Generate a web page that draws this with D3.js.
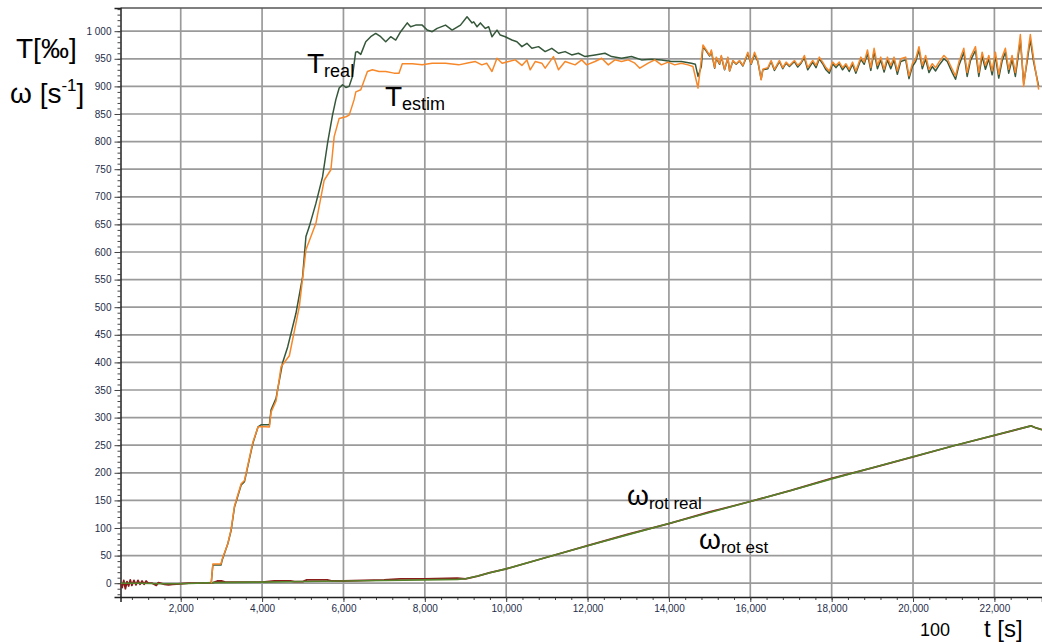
<!DOCTYPE html>
<html>
<head>
<meta charset="utf-8">
<script src="https://cdn.jsdelivr.net/npm/d3@7"></script>
<style>
  body { margin: 0; background: #fff; }
  text { font-family: "Liberation Sans", Arial, sans-serif; }
</style>
</head>
<body>
<svg id="chart" width="1042" height="642"></svg>
<script>
// ---- torque, run-up phase (time in s, torque in ‰) ----
const realRiseTime = [2750, 2790, 2990, 3020, 3160, 3240, 3322, 3486, 3567, 3772, 3900, 3976, 4180, 4221, 4343, 4506, 4629, 4833, 4996, 5078,
  5160, 5323, 5486, 5609, 5731, 5813, 5895, 5976, 6060, 6140, 6221, 6300, 6344, 6426, 6548, 6670, 6793, 6916, 7039, 7161,
  7284, 7406, 7569, 7651, 7774, 7936, 8058, 8181, 8303, 8509, 8671, 8876, 9038, 9161, 9202, 9283, 9366, 9488, 9570, 9651,
  9774, 9855, 9978, 10141, 10264, 10386, 10509, 10631, 10795, 10958, 11121, 11285, 11448, 11611, 11775, 11938, 12183, 12428, 12591, 12836,
  13081, 13326, 13571, 13816, 14061, 14306, 14551, 14650, 14715, 14796];
const realRiseValue = [0, 33, 33, 42, 72, 96, 138, 178, 184, 253, 283, 287, 287, 314, 335, 400, 428, 489, 555, 628,
  646, 688, 736, 797, 848, 876, 897, 903, 898, 900, 918, 962, 963, 958, 981, 990, 996, 990, 981, 990,
  984, 999, 1015, 1008, 1011, 1011, 1002, 999, 1005, 1011, 1002, 1011, 1026, 1015, 1017, 1008, 1015, 1005, 1008, 990,
  1002, 993, 990, 984, 981, 972, 978, 969, 972, 963, 969, 960, 963, 957, 960, 954, 957, 960, 954, 951,
  954, 948, 949, 948, 945, 945, 942, 940, 918, 936];

const estRiseTime = [2750, 2790, 2990, 3020, 3160, 3240, 3322, 3486, 3567, 3772, 3900, 3976, 4180, 4221, 4343, 4466, 4670, 4915, 5078, 5323,
  5527, 5691, 5772, 5895, 6059, 6140, 6181, 6262, 6304, 6426, 6589, 6711, 6875, 7039, 7242, 7365, 7446, 7691, 7936, 8181,
  8509, 8835, 9080, 9243, 9400, 9520, 9651, 9774, 9900, 10060, 10223, 10386, 10509, 10590, 10713, 10876, 10958, 11162, 11285, 11448,
  11693, 11856, 11979, 12183, 12346, 12510, 12673, 12836, 13000, 13163, 13285, 13489, 13652, 13816, 13979, 14142, 14306, 14469, 14590, 14715];
const estRiseValue = [0, 35, 35, 44, 72, 98, 140, 180, 186, 255, 283, 284, 283, 310, 330, 392, 412, 501, 604, 652,
  730, 749, 809, 842, 845, 848, 857, 876, 890, 894, 927, 930, 927, 927, 924, 924, 941, 941, 939, 942,
  942, 939, 943, 945, 939, 942, 927, 951, 942, 945, 948, 938, 948, 930, 945, 942, 933, 954, 930, 945,
  939, 948, 939, 945, 951, 939, 948, 945, 948, 942, 933, 942, 948, 939, 944, 939, 942, 939, 936, 897];

// ---- torque, steady running (shared time base) ----
const steadyTime = [14837, 14919, 15001, 15042, 15124, 15164, 15246, 15287, 15368, 15450,
  15491, 15573, 15654, 15736, 15818, 15940, 16022, 16104, 16185, 16267,
  16308, 16431, 16512, 16594, 16717, 16798, 16880, 16962, 17084, 17166,
  17248, 17329, 17411, 17534, 17615, 17697, 17779, 17860, 17942, 18023,
  18105, 18187, 18268, 18350, 18432, 18513, 18595, 18718, 18800, 18880,
  18962, 19043, 19125, 19207, 19289, 19370, 19452, 19534, 19615, 19697,
  19820, 19901, 19983, 20065, 20146, 20228, 20310, 20391, 20473, 20555,
  20637, 20759, 20841, 20964, 21045, 21127, 21249, 21331, 21413, 21535,
  21617, 21699, 21780, 21862, 21944, 22025, 22107, 22189, 22270, 22352,
  22434, 22515, 22597, 22638, 22720, 22802, 22883, 22965, 23088];
const steadyReal = [972, 964, 955, 963, 933, 951, 940, 954, 930, 951,
  928, 946, 940, 946, 937, 959, 940, 958, 945, 913,
  930, 932, 945, 929, 945, 932, 942, 936, 945, 935,
  942, 952, 930, 944, 934, 950, 941, 930, 924, 941,
  934, 941, 930, 938, 927, 940, 924, 949, 940, 960,
  929, 963, 932, 948, 926, 948, 932, 948, 922, 945,
  948, 914, 936, 945, 966, 932, 950, 925, 936, 928,
  938, 950, 945, 925, 913, 938, 962, 918, 947, 965,
  918, 955, 931, 950, 921, 955, 915, 946, 962, 924,
  949, 918, 961, 985, 905, 944, 985, 944, 900];
const steadyEst = [975, 966, 956, 966, 934, 953, 941, 956, 931, 953,
  928, 947, 941, 947, 938, 962, 941, 962, 947, 912,
  931, 934, 947, 931, 947, 934, 944, 938, 947, 938,
  944, 956, 934, 947, 938, 953, 944, 934, 928, 944,
  938, 944, 934, 941, 931, 944, 928, 953, 944, 966,
  934, 969, 938, 953, 931, 953, 938, 953, 928, 950,
  953, 919, 941, 950, 972, 938, 956, 931, 941, 934,
  944, 956, 950, 931, 919, 944, 969, 925, 953, 972,
  925, 962, 938, 956, 928, 962, 922, 953, 969, 931,
  956, 925, 969, 994, 900, 950, 994, 950, 894];

// ---- rotor speed (s^-1) ----
const speedRealTime = [520, 1000, 1500, 2000, 2800, 4000, 5000, 6000, 7000, 8000, 8800, 9000, 9300, 9600, 10000, 11000, 12000, 13000, 14000, 15000,
  16000, 17000, 18000, 19000, 20000, 21000, 22000, 22900, 23000, 23170];
const speedReal = [0, 0, -1, -1, 1, 2, 3, 4, 5, 6, 7, 8, 13, 19, 26, 47, 68, 88, 108, 128,
  148, 168, 189, 209, 229, 249, 268, 285, 282, 278];

const speedEstTime = [520, 560, 600, 640, 680, 720, 760, 800, 850, 900, 950, 1000, 1050, 1100, 1150, 1200, 1300, 1400, 1450, 1500,
  1600, 1700, 1800, 2000, 2200, 2500, 2800, 2900, 3000, 3100, 4000, 4300, 4700, 4800, 5000, 5100, 5600, 5700, 6000, 7000,
  7400, 8000, 8800, 9000, 9300, 9600, 10000, 11000, 12000, 13000, 14000, 15000, 16000, 17000, 18000, 19000, 20000, 21000, 22000, 22900,
  23000, 23170];
const speedEst = [0, -8, 5, -10, 3, -5, 6, -4, 5, -3, 5, -2, 4, -2, 4, 0, 0, -4, 1, 0,
  -2, -3, -2, -1, 0, 0, 1, 4, 4, 2, 2, 4, 4, 3, 3, 6, 6, 4, 4, 6,
  8, 8, 9, 8, 13, 19, 26, 47, 68, 89, 108, 129, 148, 168, 190, 209, 229, 249, 268, 285,
  282, 278];

// ---- axes ----
const yTicks = [0, 50, 100, 150, 200, 250, 300, 350, 400, 450, 500, 550, 600, 650, 700, 750, 800, 850, 900, 950, 1000];
const yTickLabels = ["0", "50", "100", "150", "200", "250", "300", "350", "400", "450", "500", "550", "600", "650", "700", "750", "800", "850", "900", "950", "1 000"];
const xTicks = [2000, 4000, 6000, 8000, 10000, 12000, 14000, 16000, 18000, 20000, 22000];
const xTickLabels = ["2,000", "4,000", "6,000", "8,000", "10,000", "12,000", "14,000", "16,000", "18,000", "20,000", "22,000"];

const svg = d3.select("#chart");
const plot = { left: 120.5, top: 8, right: 1042, bottom: 597 };

const x = d3.scaleLinear().domain([520, 23170]).range([plot.left, plot.right]);
const y = d3.scaleLinear().domain([-25, 1042]).range([plot.bottom, plot.top]);

svg.append("defs").append("clipPath").attr("id", "plotClip")
  .append("rect")
  .attr("x", plot.left).attr("y", plot.top)
  .attr("width", plot.right - plot.left).attr("height", plot.bottom - plot.top);

// grid
const grid = svg.append("g").attr("stroke", "#9a9a9a").attr("stroke-width", 1.7);
grid.selectAll("line.h").data(yTicks).join("line")
  .attr("x1", plot.left).attr("x2", plot.right)
  .attr("y1", d => y(d)).attr("y2", d => y(d));
grid.selectAll("line.v").data(xTicks).join("line")
  .attr("x1", d => x(d)).attr("x2", d => x(d))
  .attr("y1", plot.top).attr("y2", plot.bottom);

// frame
svg.append("line").attr("x1", plot.left).attr("x2", plot.right).attr("y1", plot.top).attr("y2", plot.top)
  .attr("stroke", "#555").attr("stroke-width", 1.5);

// y axis with minor ticks
const yMinor = d3.range(-20, 1041, 10);
const yAxisMinor = d3.axisLeft(y).tickValues(yMinor).tickSize(3).tickFormat("");
svg.append("g").attr("transform", `translate(${plot.left},0)`).call(yAxisMinor)
  .call(g => g.select(".domain").remove())
  .call(g => g.selectAll("line").attr("stroke", "#444"));
const yAxis = d3.axisLeft(y).tickValues(yTicks).tickSize(6).tickPadding(3)
  .tickFormat((d, i) => yTickLabels[i]);
svg.append("g").attr("transform", `translate(${plot.left},0)`).call(yAxis)
  .call(g => g.select(".domain").attr("stroke", "#222").attr("stroke-width", 1.5))
  .call(g => g.selectAll("line").attr("stroke", "#444"))
  .call(g => g.selectAll("text").attr("fill", "#1f2d4a").attr("font-size", 10)
    .attr("font-family", "'Liberation Sans', Arial, sans-serif"));

// x axis with minor ticks
const xMinor = d3.range(800, 23170, 400);
const xAxisMinor = d3.axisBottom(x).tickValues(xMinor).tickSize(3).tickFormat("");
svg.append("g").attr("transform", `translate(0,${plot.bottom})`).call(xAxisMinor)
  .call(g => g.select(".domain").remove())
  .call(g => g.selectAll("line").attr("stroke", "#444"));
const xAxis = d3.axisBottom(x).tickValues(xTicks).tickSize(5).tickPadding(3)
  .tickFormat((d, i) => xTickLabels[i]);
svg.append("g").attr("transform", `translate(0,${plot.bottom})`).call(xAxis)
  .call(g => g.select(".domain").attr("stroke", "#222").attr("stroke-width", 1.5))
  .call(g => g.selectAll("line").attr("stroke", "#444"))
  .call(g => g.selectAll("text").attr("fill", "#1f2d4a").attr("font-size", 10)
    .attr("font-family", "'Liberation Sans', Arial, sans-serif"));

// series
const line = d3.line().x(d => x(d[0])).y(d => y(d[1]));
const zip = (ts, vs) => ts.map((t, i) => [t, vs[i]]);

const series = [
  { pts: zip(speedEstTime, speedEst), color: "#8b1c1c", w: 1.8 },
  { pts: zip(speedRealTime, speedReal), color: "#56842c", w: 1.6 },
  { pts: zip(realRiseTime, realRiseValue).concat(zip(steadyTime, steadyReal)), color: "#35573a", w: 1.5 },
  { pts: zip(estRiseTime, estRiseValue).concat(zip(steadyTime, steadyEst)), color: "#f7882a", w: 1.5 }
];

const lines = svg.append("g").attr("clip-path", "url(#plotClip)");
lines.selectAll("path").data(series).join("path")
  .attr("d", d => line(d.pts))
  .attr("fill", "none")
  .attr("stroke", d => d.color)
  .attr("stroke-width", d => d.w)
  .attr("stroke-linejoin", "round");

// annotations
const ann = svg.append("g").attr("fill", "#000");
function label(xp, yp, main, sub, size, subSize) {
  const t = ann.append("text").attr("x", xp).attr("y", yp).attr("font-size", size);
  t.append("tspan").text(main);
  if (sub) t.append("tspan").attr("font-size", subSize).attr("dy", 4).text(sub);
}
// y-axis title
ann.append("text").attr("x", 16).attr("y", 58).attr("font-size", 28).text("T[‰]");
const w = ann.append("text").attr("x", 10).attr("y", 103).attr("font-size", 28);
w.append("tspan").text("ω [s");
w.append("tspan").attr("font-size", 17).attr("dy", -12).text("-1");
w.append("tspan").attr("dy", 12).text("]");

label(307, 73, "T", "real", 28, 18);
label(385, 106, "T", "estim", 28, 18);
label(627, 505, "ω", "rot real", 28, 17);
label(699, 549, "ω", "rot est", 28, 17);

// x-axis title
ann.append("text").attr("x", 920).attr("y", 636).attr("font-size", 18).text("100");
ann.append("text").attr("x", 984).attr("y", 637).attr("font-size", 24).text("t [s]");
</script>
</body>
</html>
